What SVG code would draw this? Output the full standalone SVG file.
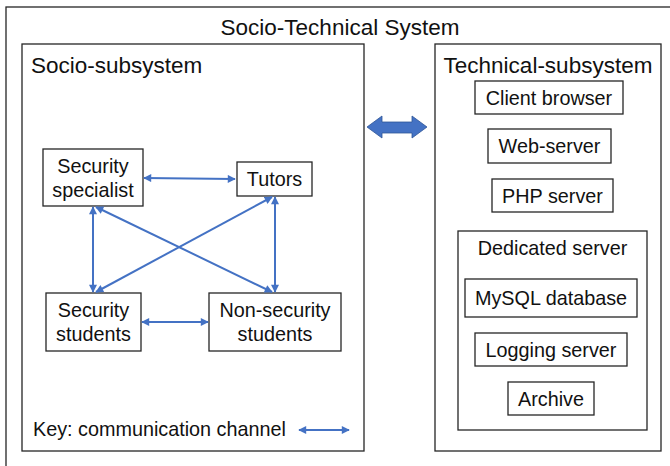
<svg xmlns="http://www.w3.org/2000/svg" width="670" height="466" viewBox="0 0 670 466">
<defs>
<style>
.box{fill:#fff;stroke:#262626;stroke-width:1.3}
.t{font-family:"Liberation Sans",Arial,sans-serif;fill:#111;text-anchor:middle}
.n{font-size:19.8px}
.h{font-size:22.5px}
.c{stroke:#4472C4;stroke-width:2;fill:none;marker-start:url(#ah);marker-end:url(#ah)}
</style>
<marker id="ah" viewBox="0 0 10 10" refX="9" refY="5" markerWidth="9" markerHeight="8" markerUnits="userSpaceOnUse" orient="auto-start-reverse">
<path d="M0,0 L10,5 L0,10 z" fill="#4472C4"/>
</marker>
</defs>
<rect width="670" height="466" fill="#fff"/>
<g id="socio-technical-system">
<rect class="box" x="6" y="7" width="670" height="470"/>
<text class="t h" x="340" y="35">Socio-Technical System</text>
</g>
<g id="socio-subsystem">
<rect class="box" x="22" y="44" width="342" height="407"/>
<text class="t h" x="31" y="73" style="text-anchor:start">Socio-subsystem</text>
</g>
<g id="technical-subsystem">
<rect class="box" x="435" y="44" width="226" height="407"/>
<text class="t h" x="548" y="73">Technical-subsystem</text>
</g>
<g id="security-specialist">
<rect class="box" x="43" y="149" width="100" height="57"/>
<text class="t n" x="93" y="173">Security</text>
<text class="t n" x="93" y="197">specialist</text>
</g>
<g id="tutors">
<rect class="box" x="237" y="162" width="75" height="34"/>
<text class="t n" x="274.5" y="186">Tutors</text>
</g>
<g id="security-students">
<rect class="box" x="46" y="293" width="95" height="58"/>
<text class="t n" x="93.5" y="317">Security</text>
<text class="t n" x="93.5" y="341">students</text>
</g>
<g id="non-security-students">
<rect class="box" x="209" y="293" width="132" height="58"/>
<text class="t n" x="275" y="317">Non-security</text>
<text class="t n" x="275" y="341">students</text>
</g>
<g id="connectors">
<line class="c" x1="144" y1="178" x2="235" y2="179"/>
<line class="c" x1="93" y1="207" x2="93" y2="292"/>
<line class="c" x1="275" y1="197" x2="275" y2="292"/>
<line class="c" x1="96" y1="207" x2="272" y2="292"/>
<line class="c" x1="272" y1="197" x2="96" y2="292"/>
<line class="c" x1="142" y1="322" x2="208" y2="322"/>
<path d="M367,127 L382,116 L382,122 L412,122 L412,116 L427,127 L412,138 L412,133 L382,133 L382,138 Z" fill="#4472C4" stroke="#2F5597" stroke-width="0.8"/>
</g>
<g id="key">
<text class="t n" x="33" y="436" style="text-anchor:start">Key: communication channel</text>
<line class="c" x1="299" y1="430" x2="349" y2="430"/>
</g>
<g id="client-browser">
<rect class="box" x="475" y="81" width="148" height="33"/>
<text class="t n" x="549" y="104.5">Client browser</text>
</g>
<g id="web-server">
<rect class="box" x="488" y="129" width="123" height="34"/>
<text class="t n" x="549.5" y="153">Web-server</text>
</g>
<g id="php-server">
<rect class="box" x="492" y="179" width="121" height="33"/>
<text class="t n" x="552.5" y="202.5">PHP server</text>
</g>
<g id="dedicated-server">
<rect class="box" x="458" y="231" width="189" height="199"/>
<text class="t n" x="552.5" y="255">Dedicated server</text>
</g>
<g id="mysql-database">
<rect class="box" x="465" y="279" width="172" height="38"/>
<text class="t n" x="551" y="305">MySQL database</text>
</g>
<g id="logging-server">
<rect class="box" x="475" y="333" width="152" height="33"/>
<text class="t n" x="551" y="356.5">Logging server</text>
</g>
<g id="archive">
<rect class="box" x="508" y="382" width="86" height="33"/>
<text class="t n" x="551" y="405.5">Archive</text>
</g>
</svg>
